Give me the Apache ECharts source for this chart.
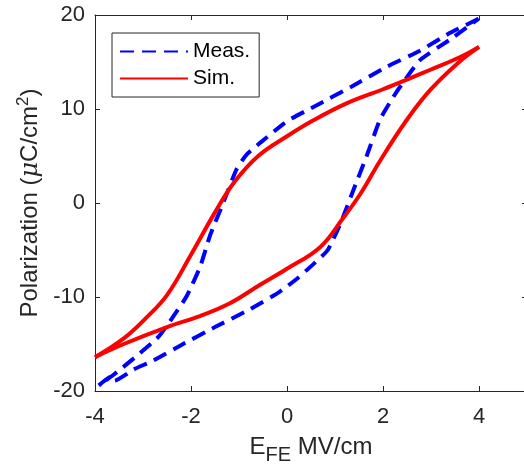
<!DOCTYPE html>
<html>
<head>
<meta charset="utf-8">
<script src="https://cdn.jsdelivr.net/npm/echarts@6/dist/echarts.min.js"></script>
<style>
html,body{margin:0;padding:0;background:#fff;overflow:hidden;}
#chart{width:532px;height:473px;}
</style>
</head>
<body>
<div id="chart"></div>
<script>
// ---- data ----
var xTicks = [-4, -2, 0, 2, 4];
var yTicks = [-20, -10, 0, 10, 20];

// Measured loop (blue dashed)
var measUpperX = [3.99, 3.4, 2.77, 2.08, 1.35, 0.62, 0.0, -0.56, -0.85, -1.05, -1.33, -1.6, -1.81, -2.1, -2.4, -2.67, -3.16, -3.62, -3.92];
var measUpperY = [19.6, 18.1, 16.2, 14.5, 12.4, 10.4, 8.7, 6.4, 5.1, 3.6, 0.0, -3.4, -6.8, -10.0, -12.3, -14.2, -16.4, -18.3, -19.4];
var measLowerX = [-3.92, -3.65, -3.59, -3.19, -2.8, -2.2, -1.5, -0.77, -0.17, 0.22, 0.55, 0.85, 1.12, 1.4, 1.66, 1.94, 2.28, 2.77, 3.4, 3.99];
var measLowerY = [-19.4, -18.4, -18.9, -17.7, -16.8, -15.1, -13.2, -11.3, -9.5, -8.0, -6.5, -5.0, -2.1, 1.6, 5.0, 8.9, 11.8, 15.2, 17.4, 19.6];

// Simulated loop (red solid)
var simUpperX = [4.0, 3.6, 3.0, 2.46, 2.0, 1.24, 0.55, 0.0, -0.6, -1.1, -1.5, -2.0, -2.5, -2.95, -3.4, -4.0];
var simUpperY = [16.6, 15.5, 14.2, 13.05, 12.1, 10.6, 8.8, 7.1, 5.0, 2.2, -1.0, -5.5, -9.8, -12.3, -14.4, -16.4];
var simLowerX = [-4.0, -3.4, -2.5, -1.8, -1.2, -0.56, 0.0, 0.69, 1.17, 1.52, 1.94, 2.49, 2.98, 3.54, 4.0];
var simLowerY = [-16.4, -15.0, -13.2, -12.0, -10.7, -8.7, -7.0, -4.7, -1.6, 0.9, 4.5, 8.8, 12.0, 14.8, 16.6];

function pairs(xs, ys) { return xs.map(function (x, i) { return [x, ys[i]]; }); }

var AX = '#262626';
var FONT = 'Liberation Sans, Arial, sans-serif';

var chart = echarts.init(document.getElementById('chart'), null, {renderer: 'canvas'});

var baseAxis = {
  type: 'value',
  axisLine: {show: true, onZero: false, lineStyle: {color: AX, width: 1}},
  axisTick: {show: true, inside: true, length: 5, lineStyle: {color: AX, width: 1}},
  splitLine: {show: false}
};

var measStyle = {color: '#0000ff', width: 4, type: [14, 8]};
var simStyle = {color: '#ff0000', width: 4, type: 'solid'};

chart.setOption({
  backgroundColor: '#ffffff',
  animation: false,
  textStyle: {fontFamily: FONT},
  grid: {left: 95, right: 5, top: 15, bottom: 82, containLabel: false},
  legend: {
    orient: 'vertical',
    left: 112, top: 33,
    padding: [8, 9, 8, 7],
    itemGap: 6,
    itemWidth: 68, itemHeight: 16,
    backgroundColor: '#ffffff',
    borderColor: '#262626', borderWidth: 1,
    itemStyle: {opacity: 0},
    textStyle: {fontSize: 21, color: '#000', fontFamily: FONT},
    data: ['Meas.', 'Sim.']
  },
  xAxis: [
    Object.assign({}, baseAxis, {
      min: -4, max: 5, interval: 2, position: 'bottom',
      axisLabel: {show: true, fontSize: 22, color: AX, margin: 15, fontFamily: FONT,
        formatter: function (v) { return xTicks.indexOf(v) >= 0 ? String(v) : ''; }},
      name: '{a|E}{sub|FE}{a| MV/cm}',
      nameLocation: 'middle', nameGap: 38,
      nameTextStyle: {
        color: AX, fontFamily: FONT,
        rich: {
          a: {fontSize: 24, color: AX, fontFamily: FONT},
          sub: {fontSize: 20, color: AX, fontFamily: FONT, padding: [16, 0, 0, 0]}
        }
      }
    }),
    Object.assign({}, baseAxis, {
      min: -4, max: 5, interval: 2, position: 'top',
      axisLabel: {show: false}
    })
  ],
  yAxis: [
    Object.assign({}, baseAxis, {
      min: -20, max: 20, interval: 10, position: 'left',
      axisLabel: {show: true, fontSize: 22, color: AX, margin: 10, fontFamily: FONT,
        formatter: function (v) { return yTicks.indexOf(v) >= 0 ? String(v) : ''; }},
      name: '{a|Polarization (}{i|μ}{a|C/cm}{s|2}{a|)}',
      nameLocation: 'middle', nameGap: 40, nameRotate: 90,
      nameTextStyle: {
        color: AX, fontFamily: FONT,
        rich: {
          a: {fontSize: 24, color: AX, fontFamily: FONT},
          i: {fontSize: 24, color: AX, fontFamily: 'DejaVu Serif, serif', fontStyle: 'italic'},
          s: {fontSize: 17, color: AX, fontFamily: FONT, padding: [0, 0, 13, 0]}
        }
      }
    }),
    Object.assign({}, baseAxis, {
      min: -20, max: 20, interval: 10, position: 'right',
      axisLabel: {show: false}
    })
  ],
  series: [
    {name: 'Meas.', type: 'line', data: pairs(measUpperX, measUpperY), symbol: 'none', smooth: 0.15,
      lineStyle: measStyle, itemStyle: {color: '#0000ff'}, z: 2},
    {name: 'Meas.', type: 'line', data: pairs(measLowerX, measLowerY), symbol: 'none', smooth: 0.15,
      lineStyle: measStyle, itemStyle: {color: '#0000ff'}, z: 2},
    {name: 'Sim.', type: 'line', data: pairs(simUpperX, simUpperY), symbol: 'none', smooth: 0.4,
      lineStyle: simStyle, itemStyle: {color: '#ff0000'}, z: 3},
    {name: 'Sim.', type: 'line', data: pairs(simLowerX, simLowerY), symbol: 'none', smooth: 0.4,
      lineStyle: simStyle, itemStyle: {color: '#ff0000'}, z: 3}
  ]
});
</script>
</body>
</html>
